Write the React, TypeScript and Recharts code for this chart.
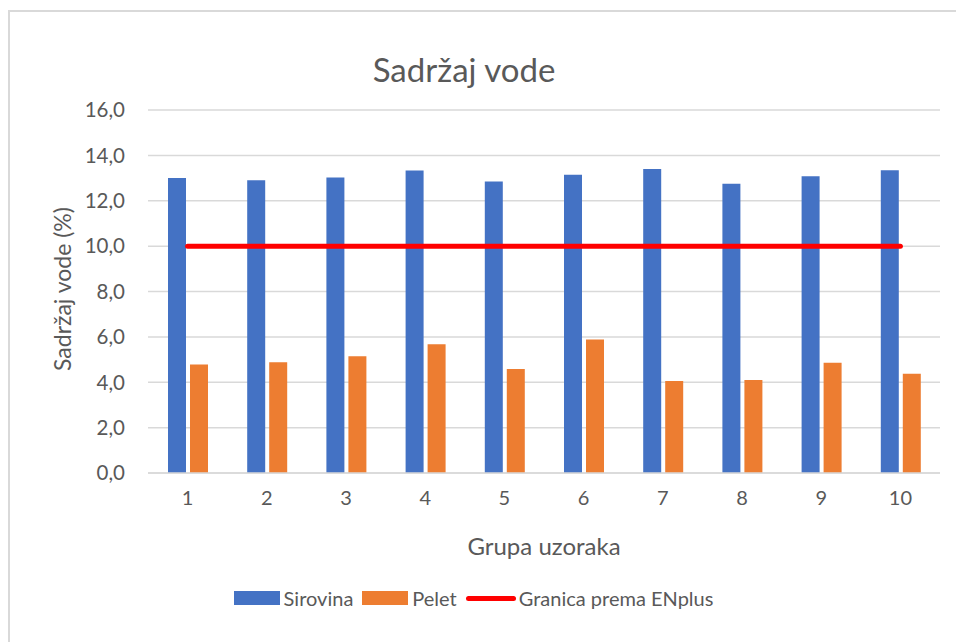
import React, { useLayoutEffect } from 'react';
import { ComposedChart, Bar, Line, XAxis, YAxis, CartesianGrid, Legend, Label } from 'recharts';

const categories = ['1', '2', '3', '4', '5', '6', '7', '8', '9', '10'];
const sirovina = [13.0, 12.9, 13.03, 13.33, 12.85, 13.15, 13.4, 12.75, 13.08, 13.34];
const pelet = [4.78, 4.88, 5.15, 5.68, 4.58, 5.88, 4.06, 4.1, 4.86, 4.37];
const granica = [10, 10, 10, 10, 10, 10, 10, 10, 10, 10];
const yTicks = [0, 2, 4, 6, 8, 10, 12, 14, 16];

const data = categories.map((c, i) => ({
  name: c,
  Sirovina: sirovina[i],
  Pelet: pelet[i],
  Granica: granica[i],
}));

const FONT = 'Lato, "Open Sans", sans-serif';
const TXT = '#595959';

const legendItems = [
  { label: 'Sirovina', color: '#4472C4', type: 'rect' },
  { label: 'Pelet', color: '#ED7D31', type: 'rect' },
  { label: 'Granica prema ENplus', color: '#FF0000', type: 'line' },
];

const renderLegend = () => (
  <div style={{ display: 'flex', justifyContent: 'center', alignItems: 'center', fontFamily: FONT, fontSize: 20, color: TXT }}>
    {legendItems.map((it) => (
      <div key={it.label} style={{ display: 'flex', alignItems: 'center', marginRight: 9 }}>
        {it.type === 'rect' ? (
          <div style={{ width: 46, height: 14, background: it.color, marginRight: 4 }} />
        ) : (
          <div style={{ width: 50, height: 5, borderRadius: 3, background: it.color, marginRight: 3 }} />
        )}
        <span>{it.label}</span>
      </div>
    ))}
  </div>
);

export default function App() {
  useLayoutEffect(() => {
    document.body.style.margin = '0';
    document.documentElement.style.overflow = 'hidden';
  }, []);
  return (
    <div style={{ position: 'fixed', left: 0, top: 0, width: 956, height: 642, background: '#fff', overflow: 'hidden' }}>
      <div style={{ position: 'absolute', left: 0, width: 956, top: 49, textAlign: 'center', fontFamily: FONT, fontSize: 33, color: TXT }}>
        <span style={{ position: 'relative', left: -14 }}>Sadržaj vode</span>
      </div>
      <ComposedChart
        width={956}
        height={642}
        data={data}
        margin={{ top: 110, right: 16, bottom: 129, left: 0 }}
        barGap={4}
        style={{ position: 'absolute', left: 0, top: 0 }}
      >
        <CartesianGrid vertical={false} stroke="#d9d9d9" strokeWidth={1.5} />
        <XAxis
          dataKey="name"
          height={40}
          tickLine={false}
          tickSize={6}
          tickMargin={12}
          axisLine={{ stroke: '#d9d9d9', strokeWidth: 1.5 }}
          tick={{ fill: TXT, fontSize: 20, fontFamily: FONT }}
        >
          <Label
            content={() => (
              <text x={544} y={545} textAnchor="middle" dominantBaseline="central" fill={TXT} fontSize={24} fontFamily={FONT}>
                Grupa uzoraka
              </text>
            )}
          />
        </XAxis>
        <YAxis
          width={148}
          domain={[0, 16]}
          ticks={yTicks}
          interval={0}
          axisLine={false}
          tickLine={false}
          tickSize={6}
          tickMargin={17}
          tickFormatter={(v: number) => v.toFixed(1).replace('.', ',')}
          tick={{ fill: TXT, fontSize: 20.5, fontFamily: FONT }}
        >
          <Label
            content={() => (
              <text x={62} y={289} transform="rotate(-90 62 289)" textAnchor="middle" dominantBaseline="central" fill={TXT} fontSize={23} fontFamily={FONT}>
                Sadržaj vode (%)
              </text>
            )}
          />
        </YAxis>
        <Bar dataKey="Sirovina" fill="#4472C4" barSize={18} isAnimationActive={false} />
        <Bar dataKey="Pelet" fill="#ED7D31" barSize={18} isAnimationActive={false} />
        <Line
          dataKey="Granica"
          stroke="#FF0000"
          strokeWidth={5}
          strokeLinecap="round"
          dot={false}
          activeDot={false}
          isAnimationActive={false}
        />
        <Legend
          verticalAlign="middle"
          align="center"
          layout="horizontal"
          content={renderLegend}
          wrapperStyle={{ top: 586, left: 0, width: 956 }}
        />
      </ComposedChart>
      <div style={{ position: 'absolute', left: 8, top: 10, width: 948, height: 632, borderTop: '2px solid #d9d9d9', borderLeft: '2px solid #d9d9d9', boxSizing: 'border-box', pointerEvents: 'none' }} />
      <div style={{ position: 'absolute', left: 942, top: 12, width: 14, height: 630, background: '#fff', zIndex: 10, pointerEvents: 'none' }} />
    </div>
  );
}
